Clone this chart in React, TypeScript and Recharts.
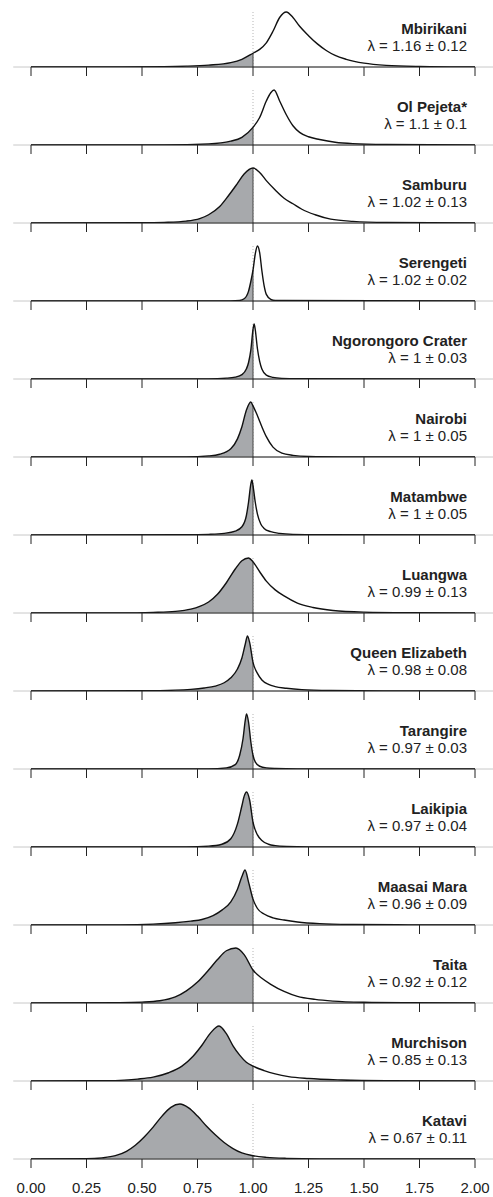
import React from "react";
import { ComposedChart, Area, Line, XAxis, YAxis, ReferenceLine } from "recharts";

// Tick values for the shared λ axis
const axisTicks = [0, 0.25, 0.5, 0.75, 1, 1.25, 1.5, 1.75, 2];

// Site names and annotation labels (top to bottom)
const siteNames = [
  "Mbirikani", "Ol Pejeta*", "Samburu", "Serengeti", "Ngorongoro Crater",
  "Nairobi", "Matambwe", "Luangwa", "Queen Elizabeth", "Tarangire",
  "Laikipia", "Maasai Mara", "Taita", "Murchison", "Katavi",
];
const lambdaLabels = [
  "λ = 1.16 ± 0.12", "λ = 1.1 ± 0.1", "λ = 1.02 ± 0.13", "λ = 1.02 ± 0.02", "λ = 1 ± 0.03",
  "λ = 1 ± 0.05", "λ = 1 ± 0.05", "λ = 0.99 ± 0.13", "λ = 0.98 ± 0.08", "λ = 0.97 ± 0.03",
  "λ = 0.97 ± 0.04", "λ = 0.96 ± 0.09", "λ = 0.92 ± 0.12", "λ = 0.85 ± 0.13", "λ = 0.67 ± 0.11",
];

// Relative posterior densities, x = λ, y = density / max
const mbirikaniX = [0, 0.4, 0.6, 0.7, 0.8, 0.9, 0.95, 1.0, 1.03, 1.06, 1.09, 1.12, 1.15, 1.18, 1.21, 1.25, 1.29, 1.33, 1.37, 1.42, 1.5, 1.6, 1.75, 2.0];
const mbirikaniY = [0, 0.002, 0.006, 0.015, 0.035, 0.08, 0.14, 0.25, 0.32, 0.44, 0.65, 0.9, 1.0, 0.9, 0.74, 0.57, 0.42, 0.3, 0.21, 0.14, 0.07, 0.03, 0.01, 0];

const olPejetaX = [0, 0.6, 0.8, 0.9, 0.95, 1.0, 1.03, 1.06, 1.08, 1.095, 1.12, 1.15, 1.18, 1.21, 1.25, 1.3, 1.37, 1.45, 1.6, 2.0];
const olPejetaY = [0, 0.003, 0.02, 0.07, 0.14, 0.32, 0.5, 0.8, 0.95, 1.0, 0.8, 0.55, 0.35, 0.23, 0.15, 0.1, 0.05, 0.025, 0.01, 0];

const samburuX = [0, 0.5, 0.6, 0.7, 0.76, 0.8, 0.85, 0.89, 0.93, 0.96, 1.0, 1.03, 1.06, 1.1, 1.14, 1.18, 1.22, 1.28, 1.35, 1.45, 1.6, 2.0];
const samburuY = [0, 0.004, 0.012, 0.035, 0.08, 0.15, 0.3, 0.5, 0.72, 0.89, 1.0, 0.92, 0.77, 0.6, 0.45, 0.35, 0.25, 0.15, 0.07, 0.03, 0.01, 0];

const serengetiX = [0, 0.9, 0.94, 0.96, 0.98, 0.99, 1.0, 1.01, 1.02, 1.03, 1.04, 1.05, 1.06, 1.08, 1.1, 2.0];
const serengetiY = [0, 0.002, 0.01, 0.04, 0.18, 0.35, 0.56, 0.85, 1.0, 0.88, 0.55, 0.28, 0.12, 0.03, 0.01, 0];

const ngorongoroX = [0, 0.8, 0.88, 0.92, 0.95, 0.97, 0.98, 0.99, 1.0, 1.005, 1.01, 1.02, 1.03, 1.04, 1.06, 1.09, 1.13, 1.2, 2.0];
const ngorongoroY = [0, 0.003, 0.015, 0.035, 0.08, 0.18, 0.3, 0.52, 0.9, 1.0, 0.9, 0.55, 0.32, 0.18, 0.07, 0.03, 0.012, 0.004, 0];

const nairobiX = [0, 0.7, 0.8, 0.85, 0.9, 0.93, 0.95, 0.97, 0.99, 1.0, 1.02, 1.04, 1.06, 1.09, 1.13, 1.18, 1.25, 1.4, 2.0];
const nairobiY = [0, 0.003, 0.02, 0.05, 0.15, 0.33, 0.55, 0.85, 1.0, 0.93, 0.75, 0.55, 0.37, 0.18, 0.07, 0.03, 0.01, 0.003, 0];

const matambweX = [0, 0.7, 0.8, 0.87, 0.92, 0.95, 0.97, 0.98, 0.99, 0.995, 1.0, 1.01, 1.02, 1.035, 1.05, 1.08, 1.12, 1.18, 1.3, 2.0];
const matambweY = [0, 0.004, 0.012, 0.03, 0.07, 0.15, 0.35, 0.6, 0.92, 1.0, 0.9, 0.6, 0.38, 0.2, 0.12, 0.06, 0.03, 0.012, 0.004, 0];

const luangwaX = [0, 0.4, 0.55, 0.65, 0.72, 0.76, 0.8, 0.84, 0.88, 0.92, 0.95, 0.98, 1.0, 1.03, 1.06, 1.1, 1.14, 1.2, 1.27, 1.36, 1.5, 1.7, 2.0];
const luangwaY = [0, 0.002, 0.012, 0.03, 0.07, 0.12, 0.2, 0.34, 0.55, 0.8, 0.95, 1.0, 0.93, 0.75, 0.58, 0.42, 0.31, 0.18, 0.1, 0.045, 0.015, 0.004, 0];

const queenElizabethX = [0, 0.5, 0.65, 0.72, 0.78, 0.83, 0.87, 0.9, 0.93, 0.95, 0.965, 0.975, 0.985, 1.0, 1.02, 1.04, 1.07, 1.1, 1.15, 1.22, 1.35, 1.6, 2.0];
const queenElizabethY = [0, 0.004, 0.015, 0.03, 0.055, 0.09, 0.15, 0.24, 0.4, 0.6, 0.85, 1.0, 0.88, 0.52, 0.32, 0.2, 0.12, 0.08, 0.05, 0.025, 0.01, 0.003, 0];

const tarangireX = [0, 0.8, 0.88, 0.92, 0.94, 0.955, 0.965, 0.971, 0.98, 0.99, 1.0, 1.01, 1.03, 1.06, 1.1, 1.2, 2.0];
const tarangireY = [0, 0.003, 0.02, 0.08, 0.25, 0.55, 0.88, 1.0, 0.85, 0.5, 0.25, 0.13, 0.05, 0.02, 0.01, 0.003, 0];

const laikipiaX = [0, 0.7, 0.8, 0.86, 0.9, 0.93, 0.95, 0.96, 0.971, 0.985, 1.0, 1.02, 1.04, 1.07, 1.1, 1.15, 1.25, 2.0];
const laikipiaY = [0, 0.003, 0.015, 0.05, 0.15, 0.42, 0.75, 0.92, 1.0, 0.85, 0.45, 0.22, 0.12, 0.05, 0.025, 0.01, 0.003, 0];

const maasaiMaraX = [0, 0.4, 0.55, 0.65, 0.72, 0.77, 0.82, 0.86, 0.9, 0.93, 0.95, 0.964, 0.98, 1.0, 1.02, 1.05, 1.09, 1.14, 1.2, 1.3, 1.45, 1.7, 2.0];
const maasaiMaraY = [0, 0.003, 0.015, 0.04, 0.07, 0.1, 0.17, 0.27, 0.42, 0.65, 0.88, 1.0, 0.78, 0.47, 0.3, 0.2, 0.13, 0.09, 0.055, 0.025, 0.01, 0.003, 0];

const taitaX = [0, 0.4, 0.5, 0.58, 0.65, 0.7, 0.75, 0.8, 0.84, 0.88, 0.923, 0.96, 1.0, 1.04, 1.08, 1.14, 1.2, 1.28, 1.36, 1.5, 1.7, 2.0];
const taitaY = [0, 0.005, 0.015, 0.04, 0.11, 0.22, 0.38, 0.6, 0.79, 0.95, 1.0, 0.88, 0.6, 0.45, 0.34, 0.21, 0.12, 0.065, 0.035, 0.013, 0.004, 0];

const murchisonX = [0, 0.3, 0.4, 0.48, 0.55, 0.62, 0.68, 0.73, 0.77, 0.81, 0.847, 0.88, 0.91, 0.94, 0.97, 1.0, 1.05, 1.1, 1.16, 1.25, 1.4, 1.6, 2.0];
const murchisonY = [0, 0.004, 0.012, 0.035, 0.07, 0.15, 0.27, 0.45, 0.65, 0.88, 1.0, 0.86, 0.64, 0.47, 0.34, 0.27, 0.19, 0.13, 0.08, 0.045, 0.018, 0.005, 0];

const kataviX = [0, 0.25, 0.32, 0.38, 0.43, 0.47, 0.51, 0.55, 0.59, 0.63, 0.671, 0.71, 0.75, 0.79, 0.83, 0.87, 0.91, 0.95, 1.0, 1.06, 1.15, 1.3, 2.0];
const kataviY = [0, 0.004, 0.02, 0.06, 0.14, 0.25, 0.4, 0.58, 0.78, 0.94, 1.0, 0.93, 0.78, 0.6, 0.44, 0.3, 0.19, 0.11, 0.06, 0.03, 0.012, 0.003, 0];

const seriesX = [mbirikaniX, olPejetaX, samburuX, serengetiX, ngorongoroX, nairobiX, matambweX, luangwaX, queenElizabethX, tarangireX, laikipiaX, maasaiMaraX, taitaX, murchisonX, kataviX];
const seriesY = [mbirikaniY, olPejetaY, samburuY, serengetiY, ngorongoroY, nairobiY, matambweY, luangwaY, queenElizabethY, tarangireY, laikipiaY, maasaiMaraY, taitaY, murchisonY, kataviY];

const FONT = '"Liberation Sans", Arial, Helvetica, sans-serif';
const W = 493;
const STEP = 78;
const PLOT_BOTTOM = 60;

function Panel({ idx, last }: { idx: number; last: boolean }) {
  const xs = seriesX[idx];
  const ys = seriesY[idx];
  const data = xs.map((x, i) => ({ x, y: ys[i], shade: x <= 1 ? ys[i] : null }));
  const yAt1 = ys[xs.indexOf(1)];
  const h = last ? PLOT_BOTTOM + 46 : PLOT_BOTTOM + 18;
  return (
    <div style={{ position: "absolute", left: 0, top: 7 + STEP * idx, width: W, height: h }}>
      <ComposedChart width={W} height={h} data={data} margin={{ top: 3, right: 18, left: 31, bottom: 0 }}>
        <XAxis
          dataKey="x"
          type="number"
          domain={[0, 2]}
          ticks={axisTicks}
          interval={0}
          tickSize={9}
          tickMargin={14}
          height={last ? 46 : 18}
          axisLine={{ stroke: "#222", strokeWidth: 1 }}
          tickLine={{ stroke: "#222", strokeWidth: 1 }}
          tick={{ fill: "#222", fontSize: 15, fontFamily: FONT }}
          tickFormatter={(v: number) => (last ? v.toFixed(2) : "")}
        />
        <YAxis hide domain={[0, 57 / 55]} allowDataOverflow />
        <ReferenceLine
          segment={[{ x: -0.08, y: 0 }, { x: 2.1, y: 0 }]}
          stroke="#c8c8c8"
          strokeWidth={1}
          ifOverflow="visible"
        />
        <ReferenceLine x={1} stroke="#b5b5b5" strokeDasharray="1 2" strokeWidth={1} />
        <Area
          dataKey="shade"
          type="monotone"
          fill="#a7a9ac"
          fillOpacity={1}
          stroke="none"
          isAnimationActive={false}
          connectNulls={false}
        />
        <ReferenceLine segment={[{ x: 1, y: 0 }, { x: 1, y: yAt1 }]} stroke="#444" strokeWidth={1} />
        <Line dataKey="y" type="monotone" stroke="#111" strokeWidth={1.4} dot={false} isAnimationActive={false} />
      </ComposedChart>
      <svg width={W} height={PLOT_BOTTOM} style={{ position: "absolute", left: 0, top: 0, pointerEvents: "none" }}>
        <text x={467} y={PLOT_BOTTOM - 33} textAnchor="end" fontFamily={FONT} fontSize={15} fontWeight="bold" fill="#222">
          {siteNames[idx]}
        </text>
        <text x={467} y={PLOT_BOTTOM - 16} textAnchor="end" fontFamily={FONT} fontSize={15} fill="#222">
          {lambdaLabels[idx]}
        </text>
      </svg>
    </div>
  );
}

export default function App() {
  return (
    <div style={{ position: "absolute", left: 0, top: 0, width: W, height: 1197, background: "#fff" }}>
      {siteNames.map((_, i) => (
        <Panel key={i} idx={i} last={i === siteNames.length - 1} />
      ))}
    </div>
  );
}
